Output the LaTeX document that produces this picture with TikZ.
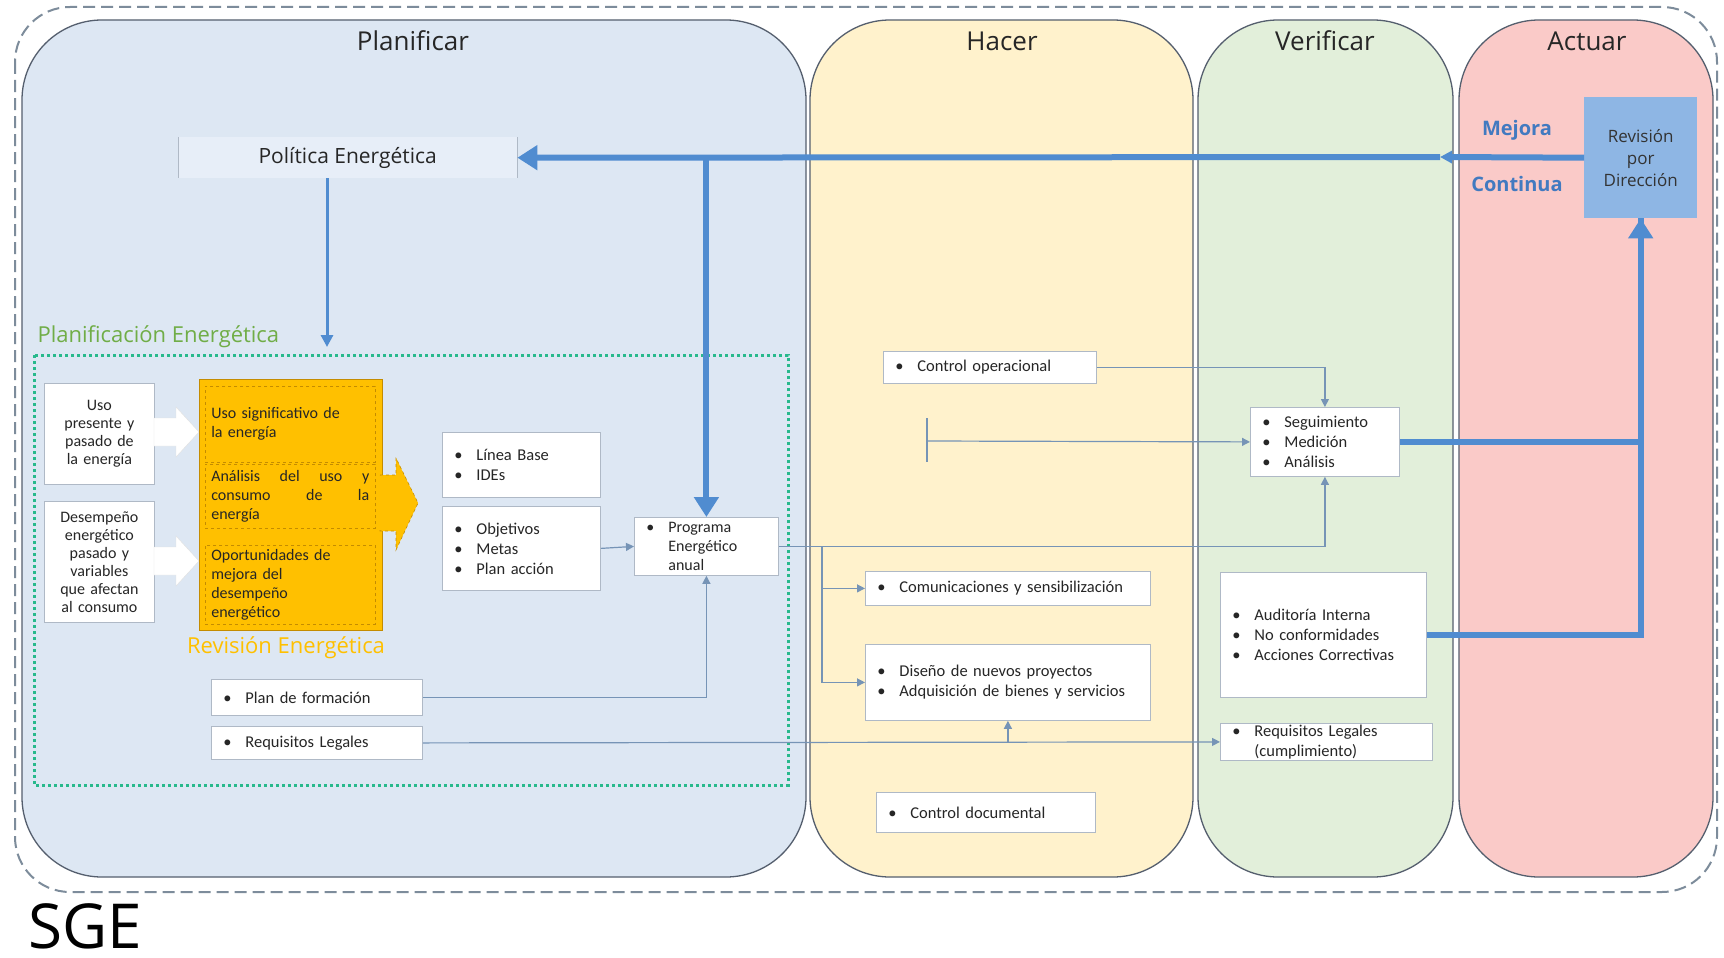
\documentclass[tikz,border=0pt]{standalone}
\usepackage{fontspec}
\setmainfont{Carlito}
\newfontfamily\seg{Open Sans}
\usetikzlibrary{arrows.meta,calc}
\definecolor{cPlan}{RGB}{221,231,243}
\definecolor{cPol}{RGB}{231,238,248}
\definecolor{cHacer}{RGB}{255,242,204}
\definecolor{cVer}{RGB}{226,239,218}
\definecolor{cAct}{RGB}{250,202,200}
\definecolor{colLine}{RGB}{85,95,110}
\definecolor{outerLine}{RGB}{125,140,155}
\definecolor{thickBlue}{RGB}{80,140,208}
\definecolor{thinBlue}{RGB}{118,148,182}
\definecolor{revBlue}{RGB}{142,182,228}
\definecolor{mejBlue}{RGB}{66,122,192}
\definecolor{gLabel}{RGB}{112,173,71}
\definecolor{gDot}{RGB}{40,185,140}
\definecolor{orFill}{RGB}{255,192,0}
\definecolor{orEdge}{RGB}{196,140,0}
\definecolor{boxLine}{RGB}{175,185,198}
\newcommand{\bu}{\makebox[22pt][l]{•}}
\newcommand{\ind}{\hspace*{22pt}}
\begin{document}
\begin{tikzpicture}[x=1pt,y=-1pt,
  col/.style={draw=colLine, line width=1.3pt, rounded corners=80pt},
  title/.style={font=\seg\fontsize{26}{30}\selectfont, text=black!85},
  bx/.style={draw=boxLine, fill=white, line width=0.8pt, anchor=north west, inner xsep=12pt, inner ysep=0pt, align=left, text=black!85, font=\fontsize{16.5}{20}\selectfont},
  cbx/.style={draw=boxLine, fill=white, line width=0.8pt, anchor=north west, inner xsep=5pt, inner ysep=0pt, align=center, text width=100pt, text=black!85, font=\fontsize{16}{18}\selectfont},
  sub/.style={draw=orEdge, dashed, line width=0.6pt, anchor=north west, inner xsep=6pt, inner ysep=0pt, text width=158pt, minimum width=170pt, align=left, text=black!85, font=\fontsize{16}{19}\selectfont},
  thickline/.style={draw=thickBlue, line width=6pt},
  thinline/.style={draw=thinBlue, line width=1.2pt},
  bigtip/.style={-{Triangle[length=20pt,width=24pt]}},
  midtip/.style={-{Triangle[length=12pt,width=12pt]}},
  smalltip/.style={-{Triangle[length=8pt,width=8pt]}},
]
\useasboundingbox[fill=white] (0,0) rectangle (1724,958);

% outer frame
\draw[draw=outerLine, line width=2pt, dash pattern=on 12pt off 6pt, rounded corners=55pt] (15,7) rectangle (1717,892);

% phase columns
\draw[col, fill=cPlan] (22,20) rectangle (806,877);
\draw[col, fill=cHacer] (810,20) rectangle (1193,877);
\draw[col, fill=cVer] (1198,20) rectangle (1453,877);
\draw[col, fill=cAct] (1459,20) rectangle (1713,877);

\node[title] (tP) at (413,41) {Planificar};
\node[title] (tH) at (1002,41) {Hacer};
\node[title] (tV) at (1325,41) {Verificar};
\node[title] (tA) at (1587,41) {Actuar};

% planificacion energetica frame
\draw[draw=gDot, line width=3pt, dash pattern=on 3pt off 3pt] (34,355) rectangle (788,785);
\node[anchor=west, text=gLabel, font=\seg\fontsize{22}{24}\selectfont] (lpe) at (34,337) {Planificación Energética};

% politica
\node[fill=cPol, anchor=north west, minimum width=339pt, minimum height=41pt, inner sep=0pt, text=black!85, font=\seg\fontsize{21}{24}\selectfont] (pol) at (178,137) {Política Energética};
\draw[draw=boxLine, line width=0.8pt] (pol.north west) -- (pol.south west);
\draw[draw=boxLine, line width=0.8pt] (pol.north east) -- (pol.south east);

% left input boxes
\node[cbx, minimum height=101pt] (uso) at (44,383) {Uso\\presente y\\pasado de\\la energía};
\node[cbx, minimum height=121pt] (des) at (44,501) {Desempeño\\energético\\pasado y\\variables\\que afectan\\al consumo};

% white block arrows
\filldraw[fill=white, draw=black!12] (154,418) -- (176,418) -- (176,407) -- (199,432) -- (176,457) -- (176,446) -- (154,446) -- cycle;
\filldraw[fill=white, draw=black!12] (154,547) -- (176,547) -- (176,536) -- (199,561) -- (176,586) -- (176,575) -- (154,575) -- cycle;

% revision energetica
\node[draw=orEdge, line width=1pt, fill=orFill, anchor=north west, minimum width=183pt, minimum height=251pt, inner sep=0pt] (re) at (199,379) {};
\filldraw[fill=orFill, draw=orEdge, dashed, line width=0.6pt] (380,475) -- (396,475) -- (396,458) -- (418,503) -- (396,550) -- (396,531) -- (380,531) -- cycle;
\fill[orFill] (376,476) rectangle (384,530);
\node[sub, minimum height=76pt] (s1) at (205,386) {Uso significativo de\\la energía\\[19pt]};
\node[sub, minimum height=64pt] (s2) at (205,464) {Análisis\hfill del\hfill uso\hfill y\\consumo\hfill de\hfill la\\energía};
\node[sub, minimum height=79pt] (s3) at (205,545) {Oportunidades de\\mejora del\\desempeño\\energético};
\node[text=orFill, font=\seg\fontsize{22}{24}\selectfont] (lre) at (286,648) {Revisión Energética};

% planning boxes
\node[bx, text width=134pt, minimum height=65pt] (lb) at (442,432) {\bu Línea Base\\\bu IDEs};
\node[bx, text width=134pt, minimum height=84pt] (obj) at (442,506) {\bu Objetivos\\\bu Metas\\\bu Plan acción};
\node[bx, text width=120pt, minimum height=58pt, font=\fontsize{16}{19}\selectfont] (prog) at (634,517) {\bu Programa\\\ind Energético\\\ind anual};
\node[bx, text width=187pt, minimum height=36pt] (pf) at (211,679) {\bu Plan de formación};
\node[bx, text width=187pt, minimum height=33pt] (rl) at (211,726) {\bu Requisitos Legales};

% hacer boxes
\node[bx, text width=189pt, minimum height=32pt] (cop) at (883,351) {\bu Control operacional};
\node[bx, text width=261pt, minimum height=34pt] (com) at (865,571) {\bu Comunicaciones y sensibilización};
\node[bx, text width=261pt, minimum height=76pt] (dis) at (865,644) {\bu Diseño de nuevos proyectos\\\bu Adquisición de bienes y servicios};
\node[bx, text width=195pt, minimum height=40pt] (cdoc) at (876,792) {\bu Control documental};

% verificar boxes
\node[bx, text width=125pt, minimum height=69pt] (seg) at (1250,407) {\bu Seguimiento\\\bu Medición\\\bu Análisis};
\node[bx, text width=182pt, minimum height=125pt] (aud) at (1220,572) {\bu Auditoría Interna\\\bu No conformidades\\\bu Acciones Correctivas};
\node[bx, text width=188pt, minimum height=37pt] (rlc) at (1220,723) {\bu Requisitos Legales\\\ind (cumplimiento)};

% actuar
\node[fill=revBlue, anchor=north west, minimum width=113pt, minimum height=121pt, inner sep=0pt, align=center, text=black!80, font=\seg\fontsize{17}{22}\selectfont] (rev) at (1584,97) {Revisión\\por\\Dirección};
\node[text=mejBlue, font=\seg\bfseries\fontsize{20}{24}\selectfont] (mej) at (1517,130) {Mejora};
\node[text=mejBlue, font=\seg\bfseries\fontsize{20}{24}\selectfont] (cont) at (1517,184) {Continua};

% thick connectors
\coordinate (mid) at (1440,157);
\draw[thickline, midtip] (rev.west) -- (mid);
\draw[thickline, bigtip] (mid) -- (pol.east);
\draw[thickline, bigtip] (prog.north |- pol.east) -- (prog.north);
\draw[thickline] (aud.east) -| (rev.south);
\draw[thickline, bigtip] (seg.east) -| (rev.south);
\coordinate (pe) at (327,347);
\draw[draw=thickBlue, line width=3pt, -{Triangle[length=12pt,width=12pt]}] (pol.south -| pe) -- (pe);

% thin connectors
\draw[thinline, smalltip] (obj.east) -- (prog.west);
\draw[thinline, smalltip] (pf.east) -| (prog.south);
\draw[thinline, smalltip] (rl.east) -- (rlc.west);
\draw[thinline, smalltip] (dis.south |- rl.east) -- (dis.south);
\coordinate (br) at (822,546);
\draw[thinline, smalltip] (prog.east) -| (seg.south);
\draw[thinline, smalltip] (br) |- (com.west);
\draw[thinline, smalltip] (br) |- (dis.west);
\draw[thinline, smalltip] (cop.east) -| (seg.north);
\coordinate (tk) at (927,441);
\draw[thinline] ($(tk)+(0,-23)$) -- ($(tk)+(0,21)$);
\draw[thinline, smalltip] (tk) -- (seg.west);

% SGE label
\node[anchor=base west, inner sep=0pt, text depth=0pt, text=black, font=\seg\fontsize{62}{66}\selectfont] (sge) at (28,948) {SGE};
\end{tikzpicture}
\end{document}
